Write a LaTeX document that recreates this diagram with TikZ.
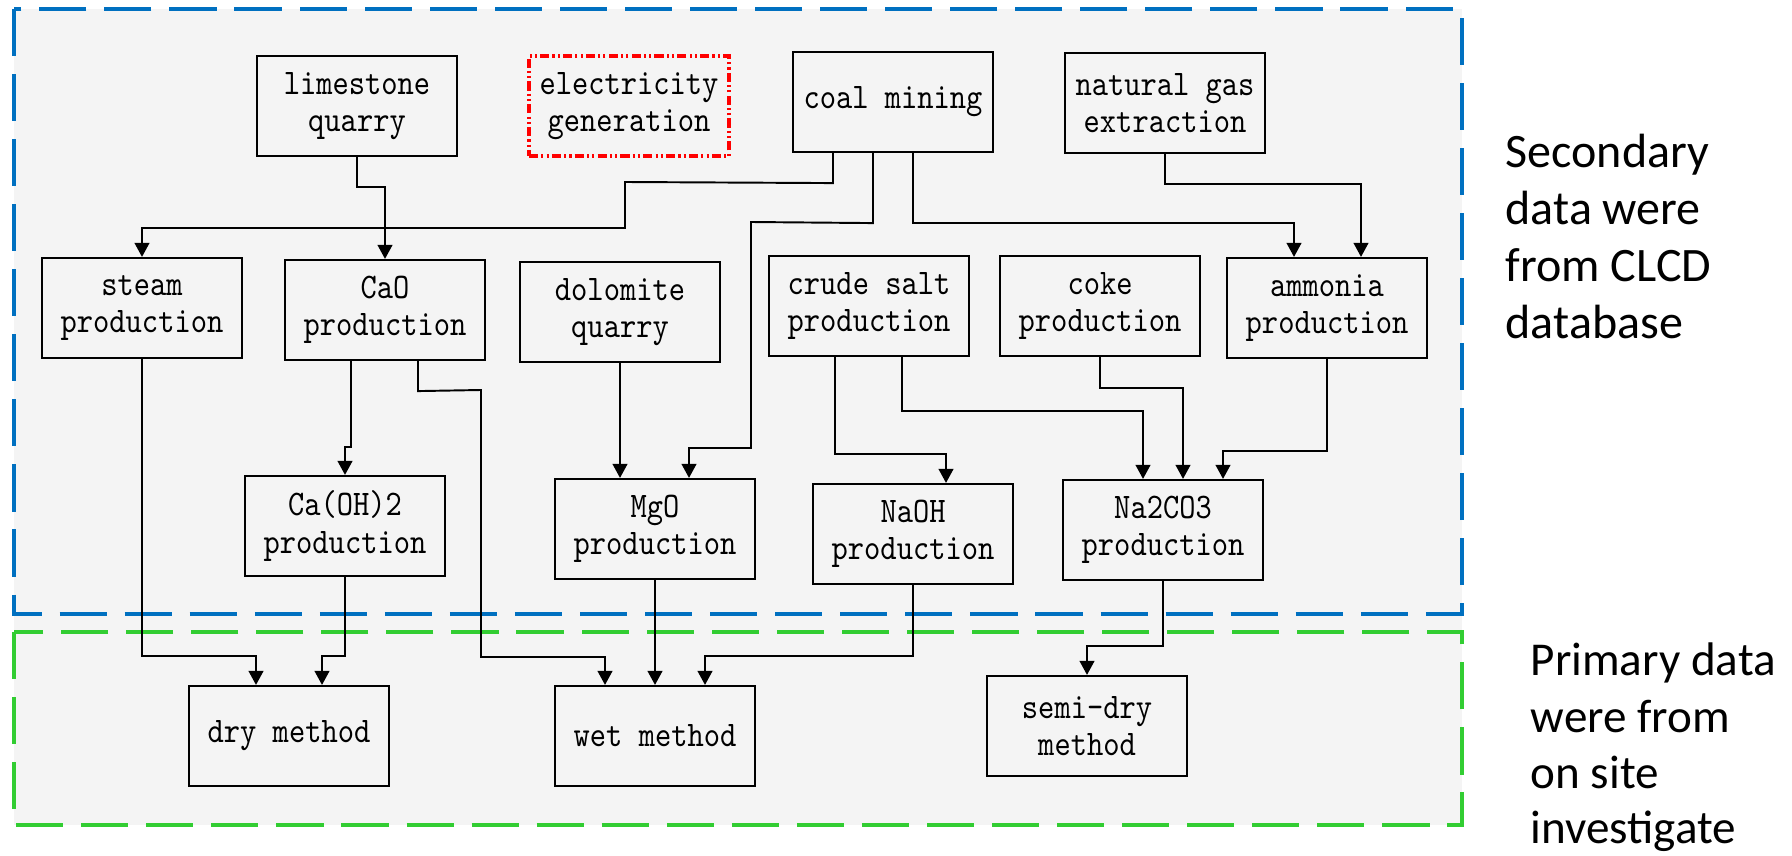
\documentclass[tikz,border=0pt]{standalone}
\usepackage{fontspec}
\newfontfamily\boxfont{Latin Modern Mono}[FakeStretch=0.86]
\newfontfamily\sidefont{Carlito}
\usetikzlibrary{arrows.meta,calc}
\definecolor{bgray}{RGB}{244,244,244}
\definecolor{bblue}{RGB}{0,112,192}
\definecolor{bgreen}{RGB}{50,205,50}
\definecolor{bred}{RGB}{255,0,0}
\tikzset{
  box/.style={draw=black, line width=0.6pt, fill=bgray, minimum width=2cm, minimum height=1cm,
    inner sep=0pt, align=center, font=\boxfont\fontsize{10.24pt}{10.53pt}\selectfont},
  redbox/.style={box, draw=bred, line width=0.9pt,
    dash pattern=on 2.6pt off 0.9pt on 0.6pt off 0.9pt on 0.6pt off 0.9pt},
  conn/.style={line width=0.55pt, -{Triangle[length=4pt,width=4.2pt]}},
  region/.style={line width=1.4pt, dash pattern=on 13.4pt off 5.1pt},
  sidetext/.style={anchor=base west, inner sep=0pt, font=\sidefont\fontsize{13.66pt}{16.2pt}\selectfont},
  sidetextb/.style={anchor=base west, inner sep=0pt, font=\sidefont\fontsize{13.4pt}{16.1pt}\selectfont}
}
\begin{document}
\begin{tikzpicture}[x=0.01cm,y=-0.01cm]
\useasboundingbox (0,0) rectangle (1792,855);
\fill[bgray] (14,9) rectangle (1462,825);
\draw[region, bblue] (14,9) rectangle (1462,614);
\draw[region, bgreen] (14,632) rectangle (1462,825);

% nodes
\node[box] (lime) at (357,106) {limestone\\quarry};
\node[redbox] (elec) at (629,106) {electricity\\generation};
\node[box] (coal) at (893,102) {coal mining};
\node[box] (ng) at (1165,103) {natural gas\\extraction};
\node[box] (steam) at (142,308) {steam\\production};
\node[box] (cao) at (385,310) {CaO\\production};
\node[box] (dolo) at (620,312) {dolomite\\quarry};
\node[box] (crude) at (869,306) {crude salt\\production};
\node[box] (coke) at (1100,306) {coke\\production};
\node[box] (amm) at (1327,308) {ammonia\\production};
\node[box] (caoh) at (345,526) {Ca(OH)2\\production};
\node[box] (mgo) at (655,529) {MgO\\production};
\node[box] (naoh) at (913,534) {NaOH\\production};
\node[box] (na2) at (1163,530) {Na2CO3\\production};
\node[box] (dry) at (289,736) {dry method};
\node[box] (wet) at (655,736) {wet method};
\node[box] (semi) at (1087,726) {semi-dry\\method};

% connectors
\draw[conn] (lime.south) -- ++(0,30) -| (cao.north);
\draw[conn] ($(coal.south)+(-60,0)$) -- ++(0,30) -- (625,182) -- (625,228) -| (steam.north);
\draw[conn] ($(coal.south)+(-20,0)$) -- ++(0,70) -- (751,222) -- (751,448) -| ($(mgo.north)+(34,0)$);
\draw[conn] ($(coal.south)+(20,0)$) -- ++(0,70) -| ($(amm.north)+(-33,0)$);
\draw[conn] (ng.south) -- ++(0,30) -| ($(amm.north)+(34,0)$);
\draw[conn] ($(cao.south)+(-34,0)$) -- ++(0,86) -| (caoh.north);
\draw[conn] ($(cao.south)+(33,0)$) -- ++(0,30) -- (481,390) -- (481,657) -| ($(wet.north)+(-50,0)$);
\draw[conn] (steam.south) |- ($(dry.north)+(-33,-29)$) -- ($(dry.north)+(-33,0)$);
\draw[conn] (caoh.south) |- ($(dry.north)+(33,-29)$) -- ($(dry.north)+(33,0)$);
\draw[conn] (dolo.south) -- (dolo.south |- mgo.north);
\draw[conn] (mgo.south) -- (wet.north);
\draw[conn] ($(crude.south)+(-34,0)$) -- ++(0,97) -| ($(naoh.north)+(33,0)$);
\draw[conn] ($(crude.south)+(33,0)$) -- ++(0,54) -| ($(na2.north)+(-20,0)$);
\draw[conn] (coke.south) -- ++(0,31) -| ($(na2.north)+(20,0)$);
\draw[conn] (amm.south) -- ++(0,92) -| ($(na2.north)+(60,0)$);
\draw[conn] (naoh.south) |- ($(wet.north)+(50,-29)$) -- ($(wet.north)+(50,0)$);
\draw[conn] (na2.south) |- ($(semi.north)+(0,-29)$) -- (semi.north);

% side texts
\node[sidetext] (s1) at (1505,168) {Secondary};
\node[sidetext] (s2) at (1505,225) {data were};
\node[sidetext] (s3) at (1505,282) {from CLCD};
\node[sidetext] (s4) at (1505,339) {database};
\node[sidetextb] (p1) at (1530,675) {Primary data};
\node[sidetextb] (p2) at (1530,732) {were from};
\node[sidetextb] (p3) at (1530,788) {on site};
\node[sidetextb] (p4) at (1530,843) {investigate};
\end{tikzpicture}
\end{document}
